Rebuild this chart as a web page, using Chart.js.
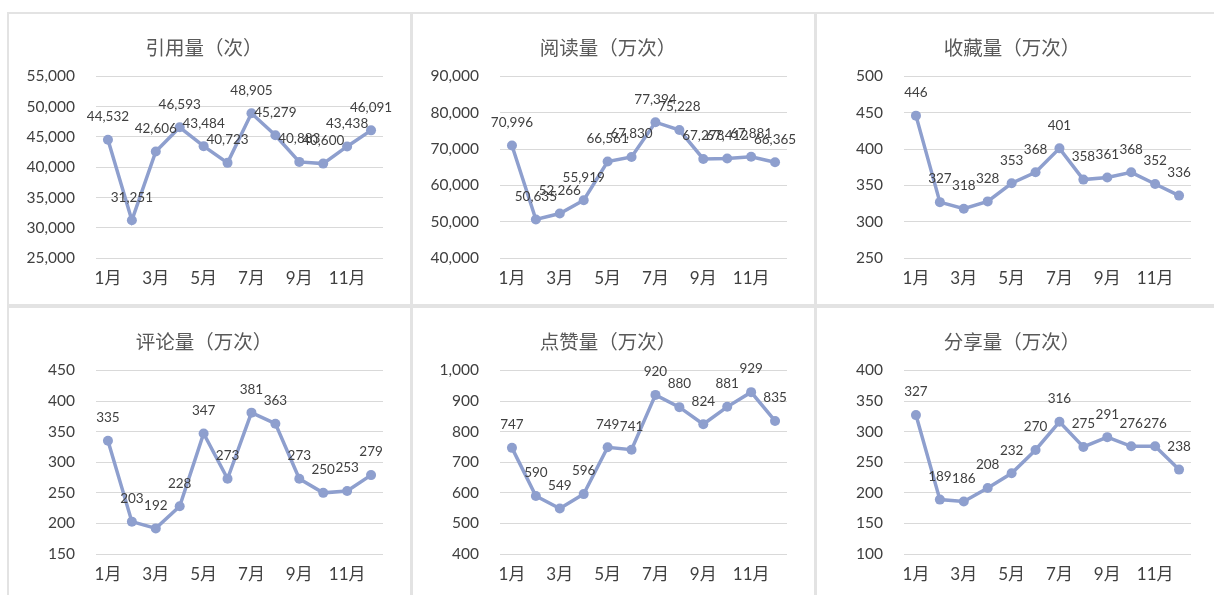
<!DOCTYPE html>
<html lang="zh-CN">
<head>
<meta charset="utf-8">
<script src="https://cdn.jsdelivr.net/npm/chart.js@4.4.1/dist/chart.umd.min.js"></script>
<style>
  html, body { margin: 0; padding: 0; background: #fff; width: 1214px; height: 595px; overflow: hidden; }
  #marco { position: absolute; left: 7px; top: 12px; width: 1212px; height: 600px; background: #e3e3e3; }
  .panel { position: absolute; background: #fff; }
  .panel canvas { display: block; }
</style>
</head>
<body>
<div id="marco">
  <div class="panel" style="left:2px;top:2px;width:401px;height:290px"><canvas id="g1" width="401" height="290"></canvas></div>
  <div class="panel" style="left:406px;top:2px;width:401px;height:290px"><canvas id="g2" width="401" height="290"></canvas></div>
  <div class="panel" style="left:810px;top:2px;width:401px;height:290px"><canvas id="g3" width="401" height="290"></canvas></div>
  <div class="panel" style="left:2px;top:296px;width:401px;height:292px"><canvas id="g4" width="401" height="292"></canvas></div>
  <div class="panel" style="left:406px;top:296px;width:401px;height:292px"><canvas id="g5" width="401" height="292"></canvas></div>
  <div class="panel" style="left:810px;top:296px;width:401px;height:292px"><canvas id="g6" width="401" height="292"></canvas></div>
</div>
<script>
// Meses (categorías del eje x)
const meses = ['1月', '2月', '3月', '4月', '5月', '6月', '7月', '8月', '9月', '10月', '11月', '12月'];

// Valores de cada serie
const citas = [44532, 31251, 42606, 46593, 43484, 40723, 48905, 45279, 40883, 40600, 43438, 46091];
const lecturas = [70996, 50635, 52266, 55919, 66561, 67830, 77394, 75228, 67278, 67412, 67881, 66365];
const favoritos = [446, 327, 318, 328, 353, 368, 401, 358, 361, 368, 352, 336];
const comentarios = [335, 203, 192, 228, 347, 273, 381, 363, 273, 250, 253, 279];
const meGusta = [747, 590, 549, 596, 749, 741, 920, 880, 824, 881, 929, 835];
const compartidos = [327, 189, 186, 208, 232, 270, 316, 275, 291, 276, 276, 238];

// Títulos y rangos del eje y
const titulos = ['引用量（次）', '阅读量（万次）', '收藏量（万次）', '评论量（万次）', '点赞量（万次）', '分享量（万次）'];
const ejeMin = [25000, 40000, 250, 150, 400, 100];
const ejeMax = [55000, 90000, 500, 450, 1000, 400];
const ejePaso = [5000, 10000, 50, 50, 100, 50];

const series = [citas, lecturas, favoritos, comentarios, meGusta, compartidos];

const fuente = 'Lato, "Noto Sans CJK SC", sans-serif';
const colorLinea = '#8e9fce';

//Plugin para dibujar el valor sobre cada punto.
const etiquetasPlugin = {
    id: 'etiquetas',
    afterDatasetsDraw(chart) {
        const ctx = chart.ctx;
        const meta = chart.getDatasetMeta(0);
        const valores = chart.data.datasets[0].data;
        ctx.save();
        ctx.font = '13.5px ' + fuente;
        ctx.fillStyle = '#404040';
        ctx.textAlign = 'center';
        ctx.textBaseline = 'middle';
        meta.data.forEach((pt, i) => {
            ctx.fillText(valores[i].toLocaleString('en-US'), pt.x, pt.y - 23);
        });
        ctx.restore();
    }
};

//Creación de los seis gráficos.
series.forEach((valores, n) => {
    const ctx = document.querySelector('#g' + (n + 1)).getContext('2d');
    new Chart(ctx, {
        type: 'line',
        data: {
            labels: meses,
            datasets: [{
                data: valores,
                borderColor: colorLinea,
                borderWidth: 3.5,
                backgroundColor: colorLinea,
                pointBackgroundColor: colorLinea,
                pointBorderWidth: 0,
                pointRadius: 5,
                tension: 0
            }]
        },
        options: {
            responsive: false,
            animation: false,
            layout: { padding: { left: 16, right: 27, top: 0, bottom: 5.5 } },
            plugins: {
                legend: { display: false },
                tooltip: { enabled: false },
                title: {
                    display: true,
                    text: titulos[n],
                    color: '#595959',
                    font: { family: fuente, size: 19.5, weight: 'normal' },
                    padding: { top: 23, bottom: 16 }
                }
            },
            scales: {
                x: {
                    offset: true,
                    grid: { display: false, drawTicks: false },
                    border: { display: false },
                    ticks: {
                        autoSkip: false,
                        maxRotation: 0,
                        padding: 10,
                        color: '#404040',
                        font: { family: fuente, size: 17 },
                        callback: (v, i) => (i % 2 === 0 ? meses[i] : '')
                    }
                },
                y: {
                    min: ejeMin[n],
                    max: ejeMax[n],
                    afterFit: (scale) => { scale.width = 71; },
                    grid: { color: '#d9d9d9', lineWidth: 1, drawTicks: false },
                    border: { display: false },
                    ticks: {
                        stepSize: ejePaso[n],
                        padding: 21,
                        color: '#404040',
                        font: { family: fuente, size: 15.5 },
                        callback: (v) => v.toLocaleString('en-US')
                    }
                }
            }
        },
        plugins: [etiquetasPlugin]
    });
});
</script>
</body>
</html>
